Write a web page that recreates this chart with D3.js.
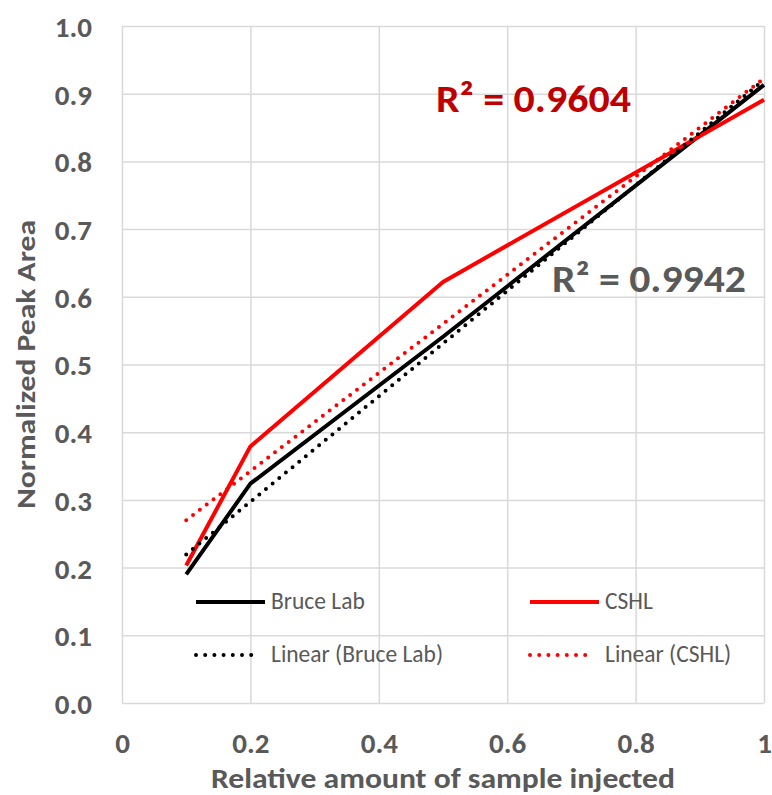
<!DOCTYPE html>
<html>
<head>
<meta charset="utf-8">
<script src="https://cdn.jsdelivr.net/npm/d3@7"></script>
<style>
  html, body { margin: 0; padding: 0; background: #fff; }
  svg { display: block; font-family: Carlito, Lato, sans-serif; }
</style>
</head>
<body>
<svg id="chart" width="772" height="795"></svg>
<script>
// Relative amount of sample injected
const amounts = [0.1, 0.2, 0.5, 1.0];
// Normalized peak area per lab
const bruceLab = [0.190, 0.324, 0.541, 0.913];
const cshl = [0.203, 0.379, 0.622, 0.891];

const xTickValues = [0, 0.2, 0.4, 0.6, 0.8, 1];
const xTickLabels = ["0", "0.2", "0.4", "0.6", "0.8", "1"];
const yTickValues = [0, 0.1, 0.2, 0.3, 0.4, 0.5, 0.6, 0.7, 0.8, 0.9, 1.0];
const yTickLabels = ["0.0", "0.1", "0.2", "0.3", "0.4", "0.5", "0.6", "0.7", "0.8", "0.9", "1.0"];

const seriesNames = ["Bruce Lab", "CSHL"];
const trendNames = ["Linear (Bruce Lab)", "Linear (CSHL)"];
const r2Labels = ["R\u00B2 = 0.9942", "R\u00B2 = 0.9604"];

const svg = d3.select("#chart");
const plot = { left: 122, right: 764, top: 26, bottom: 703 };

const x = d3.scaleLinear().domain([0, 1]).range([plot.left, plot.right]);
const y = d3.scaleLinear().domain([0, 1]).range([plot.bottom, plot.top]);

const gridColor = "#d9d9d9";
const textColor = "#595959";

// Gridlines
svg.append("g")
  .attr("transform", `translate(0,${plot.bottom})`)
  .call(d3.axisBottom(x).tickValues(xTickValues).tickSize(-(plot.bottom - plot.top)).tickFormat(""))
  .call(g => g.select(".domain").remove())
  .call(g => g.selectAll("line").attr("stroke", gridColor).attr("stroke-width", 1.5));

svg.append("g")
  .attr("transform", `translate(${plot.left},0)`)
  .call(d3.axisLeft(y).tickValues(yTickValues).tickSize(-(plot.right - plot.left)).tickFormat(""))
  .call(g => g.select(".domain").remove())
  .call(g => g.selectAll("line").attr("stroke", gridColor).attr("stroke-width", 1.5));

// Tick labels
svg.append("g")
  .attr("transform", `translate(0,${plot.bottom})`)
  .call(d3.axisBottom(x).tickValues(xTickValues).tickSize(0).tickPadding(0)
    .tickFormat((d, i) => xTickLabels[i]))
  .call(g => g.select(".domain").remove())
  .call(g => g.selectAll("text")
    .attr("y", 50).attr("dy", 0)
    .attr("fill", textColor).attr("font-size", 29).attr("font-weight", "bold")
    .attr("font-family", "Carlito, Lato, sans-serif"));

svg.append("g")
  .attr("transform", `translate(${plot.left},0)`)
  .call(d3.axisLeft(y).tickValues(yTickValues).tickSize(0).tickPadding(0)
    .tickFormat((d, i) => yTickLabels[i]))
  .call(g => g.select(".domain").remove())
  .call(g => g.selectAll("text")
    .attr("x", -30).attr("dy", "0.36em")
    .attr("fill", textColor).attr("font-size", 29).attr("font-weight", "bold")
    .attr("font-family", "Carlito, Lato, sans-serif"));

// Axis titles
svg.append("text")
  .attr("x", (plot.left + plot.right) / 2).attr("y", 788)
  .attr("text-anchor", "middle")
  .attr("fill", textColor).attr("font-size", 28).attr("font-weight", "bold")
  .attr("textLength", 464).attr("lengthAdjust", "spacingAndGlyphs")
  .text("Relative amount of sample injected");

svg.append("text")
  .attr("transform", `translate(35,${(plot.top + plot.bottom) / 2}) rotate(-90)`)
  .attr("text-anchor", "middle")
  .attr("fill", textColor).attr("font-size", 27).attr("font-weight", "bold")
  .attr("textLength", 289).attr("lengthAdjust", "spacingAndGlyphs")
  .text("Normalized Peak Area");

// Least-squares fit used for the linear trendlines
function linearFit(xs, ys) {
  const mx = d3.mean(xs), my = d3.mean(ys);
  const sxy = d3.sum(xs, (v, i) => (v - mx) * (ys[i] - my));
  const sxx = d3.sum(xs, v => (v - mx) * (v - mx));
  const slope = sxy / sxx;
  return { slope, intercept: my - slope * mx };
}

const series = [
  { name: seriesNames[0], values: bruceLab, color: "#000000" },
  { name: seriesNames[1], values: cshl, color: "#ff0000" }
];

const line = d3.line().x(d => x(d[0])).y(d => y(d[1]));

// Measured series
svg.append("g").selectAll("path")
  .data(series)
  .join("path")
  .attr("d", s => line(amounts.map((a, i) => [a, s.values[i]])))
  .attr("fill", "none")
  .attr("stroke", s => s.color)
  .attr("stroke-width", 4)
  .attr("stroke-linejoin", "round");

// Linear trendlines over the data range
const xExtent = d3.extent(amounts);
svg.append("g").selectAll("path")
  .data(series)
  .join("path")
  .attr("d", s => {
    const f = linearFit(amounts, s.values);
    return line(xExtent.map(a => [a, f.intercept + f.slope * a]));
  })
  .attr("fill", "none")
  .attr("stroke", s => s.color)
  .attr("stroke-width", 4)
  .attr("stroke-linecap", "round")
  .attr("stroke-dasharray", "0,8.6");

// R² annotations
svg.append("text")
  .attr("x", 436).attr("y", 112)
  .attr("fill", "#c00000").attr("font-size", 39).attr("font-weight", "bold")
  .attr("textLength", 195).attr("lengthAdjust", "spacingAndGlyphs")
  .text(r2Labels[1]);
svg.append("text")
  .attr("x", 552).attr("y", 292)
  .attr("fill", textColor).attr("font-size", 39).attr("font-weight", "bold")
  .attr("textLength", 194).attr("lengthAdjust", "spacingAndGlyphs")
  .text(r2Labels[0]);

// Legend
const legendItems = [
  { label: seriesNames[0], color: "#000000", dotted: false, lx: 196, ly: 602 },
  { label: seriesNames[1], color: "#ff0000", dotted: false, lx: 530, ly: 602 },
  { label: trendNames[0], color: "#000000", dotted: true, lx: 196, ly: 655 },
  { label: trendNames[1], color: "#ff0000", dotted: true, lx: 530, ly: 655 }
];
const legend = svg.append("g").selectAll("g")
  .data(legendItems)
  .join("g")
  .attr("transform", d => `translate(${d.lx},${d.ly})`);
legend.append("line")
  .attr("x1", 0).attr("x2", d => d.dotted ? 64 : 69)
  .attr("y1", 0).attr("y2", 0)
  .attr("stroke", d => d.color)
  .attr("stroke-width", 4)
  .attr("stroke-linecap", d => d.dotted ? "round" : "butt")
  .attr("stroke-dasharray", d => d.dotted ? "0,9.2" : null);
legend.append("text")
  .attr("x", 75).attr("y", 7)
  .attr("fill", textColor).attr("font-size", 23.5)
  .text(d => d.label);
</script>
</body>
</html>
